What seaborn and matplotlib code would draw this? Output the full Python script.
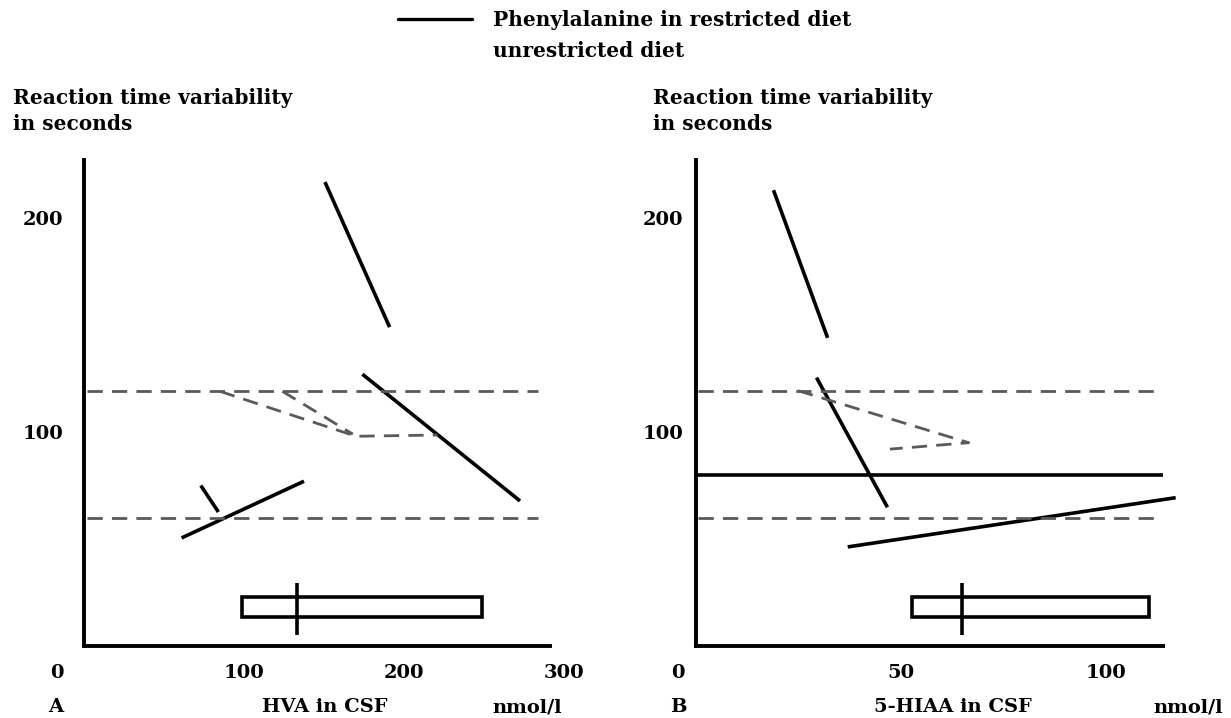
import numpy as np
import pandas as pd
import matplotlib
matplotlib.use("Agg")
import matplotlib.pyplot as plt
from matplotlib.patches import Rectangle
from matplotlib.lines import Line2D
import seaborn as sns

# ---------------- data ----------------
# Panel A (HVA in CSF, nmol/l) - restricted diet (solid) segments
a_solid_seg = [1, 1, 2, 2, 3, 3, 4, 4]
a_solid_x = [150.6, 191.0, 174.0, 272.5, 61.0, 137.5, 73.0, 84.0]
a_solid_y = [216.8, 149.0, 127.0, 67.8, 50.5, 77.0, 75.0, 62.6]
# Panel A - unrestricted diet (dashed) segments
a_dash_seg = [1, 1, 1, 2, 2]
a_dash_x = [85.0, 170.0, 221.0, 124.0, 168.0]
a_dash_y = [119.0, 98.0, 98.6, 119.0, 99.0]
# Panel A reference range (dashed horizontal)
a_ref_y = [119.0, 60.0]
a_ref_x = [2.0, 284.0]
# Panel A box (range of CSF values) and median
a_box_x = [99.0, 249.0]
a_box_y = [13.6, 22.9]
a_median_x = 133.0
a_median_y = [5.1, 29.4]

# Panel B (5-HIAA in CSF, nmol/l)
b_solid_seg = [1, 1, 2, 2, 3, 3, 4, 4]
b_solid_x = [18.9, 32.1, 29.4, 46.7, 0.0, 113.8, 37.0, 117.0]
b_solid_y = [213.0, 144.0, 125.4, 64.8, 79.9, 79.9, 46.3, 69.3]
b_dash_seg = [1, 1, 1]
b_dash_x = [24.9, 66.5, 47.3]
b_dash_y = [119.3, 95.0, 92.0]
b_ref_y = [119.0, 60.0]
b_ref_x = [0.5, 112.0]
b_box_x = [52.7, 110.5]
b_box_y = [13.6, 22.9]
b_median_x = 64.9
b_median_y = [5.1, 29.4]

# tick labels
y_ticks = [100, 200]
y_ticklabels = ["100", "200"]
a_xtick_pos = [-17, 100, 200, 300]
a_xticklabels = ["0", "100", "200", "300"]
b_xtick_pos = [-4.4, 50, 100]
b_xticklabels = ["0", "50", "100"]

legend_labels = ["Phenylalanine in restricted diet", "unrestricted diet"]
y_title = ["Reaction time variability", "in seconds"]

# ---------------- style ----------------
sns.set_style("white")
plt.rcParams["font.family"] = ["DejaVu Serif"]
plt.rcParams["font.weight"] = "bold"
plt.rcParams["text.color"] = "black"
plt.rcParams["xtick.color"] = "black"
plt.rcParams["ytick.color"] = "black"
plt.rcParams["xtick.labelcolor"] = "black"
plt.rcParams["ytick.labelcolor"] = "black"

W, H = 1231, 718
fig = plt.figure(figsize=(W / 100, H / 100), dpi=100)


def fx(px):
    return px / W


def fy(py):
    return 1 - py / H


YMAX = 227.0
PX_PER_Y = 2.14


def make_axes(left_px, xlim, px_per_x):
    width_px = (xlim[1] - xlim[0]) * px_per_x
    height_px = YMAX * PX_PER_Y
    ax = fig.add_axes([fx(left_px), fy(646), fx(width_px), height_px / H])
    ax.set_xlim(*xlim)
    ax.set_ylim(0, YMAX)
    ax.patch.set_alpha(0)
    return ax


axA = make_axes(84 - 20 * 1.6, (-20, 305), 1.6)
axB = make_axes(696 - 6 * 4.1, (-6, 118), 4.1)

SOLID_LW = 2.6
DASH_LW = 2.0
DASH_COLOR = "#5a5a5a"
DASHES = (5.5, 3.3)


def draw_panel(ax, sx, sy, sseg, dx, dy, dseg, ref_y, ref_x, box_x, box_y,
               med_x, med_y, xmax, xticks, xticklabels, ypad):
    df_s = pd.DataFrame({"x": sx, "y": sy, "seg": sseg})
    df_d = pd.DataFrame({"x": dx, "y": dy, "seg": dseg})
    sns.lineplot(data=df_s, x="x", y="y", units="seg", estimator=None,
                 sort=False, color="black", lw=SOLID_LW, ax=ax,
                 solid_capstyle="butt")
    sns.lineplot(data=df_d, x="x", y="y", units="seg", estimator=None,
                 sort=False, color=DASH_COLOR, lw=DASH_LW, ax=ax,
                 dashes=False, linestyle=(0, DASHES))
    ax.hlines(ref_y, ref_x[0], ref_x[1], colors=DASH_COLOR, lw=DASH_LW,
              linestyles=[(0, DASHES)])
    ax.add_patch(Rectangle((box_x[0], box_y[0]), box_x[1] - box_x[0],
                           box_y[1] - box_y[0], fill=False,
                           edgecolor="black", lw=SOLID_LW))
    ax.vlines(med_x, med_y[0], med_y[1], colors="black", lw=SOLID_LW)

    for s in ["top", "right"]:
        ax.spines[s].set_visible(False)
    ax.spines["left"].set_position(("data", 0))
    ax.spines["bottom"].set_position(("data", 0))
    ax.spines["left"].set_bounds(0, YMAX)
    ax.spines["bottom"].set_bounds(0, xmax)
    for s in ["left", "bottom"]:
        ax.spines[s].set_linewidth(2.8)
        ax.spines[s].set_color("black")
    ax.set_yticks(y_ticks)
    ax.set_yticklabels(y_ticklabels)
    ax.set_xticks(xticks)
    ax.set_xticklabels(xticklabels)
    ax.tick_params(axis="both", length=0, labelsize=14, labelcolor="black")
    ax.tick_params(axis="y", pad=ypad)
    ax.tick_params(axis="x", pad=13)
    for lab in ax.get_xticklabels() + ax.get_yticklabels():
        lab.set_fontweight("bold")
    ax.set_xlabel("")
    ax.set_ylabel("")


draw_panel(axA, a_solid_x, a_solid_y, a_solid_seg, a_dash_x, a_dash_y,
           a_dash_seg, a_ref_y, a_ref_x, a_box_x, a_box_y, a_median_x,
           a_median_y, 291, a_xtick_pos, a_xticklabels, 15)
draw_panel(axB, b_solid_x, b_solid_y, b_solid_seg, b_dash_x, b_dash_y,
           b_dash_seg, b_ref_y, b_ref_x, b_box_x, b_box_y, b_median_x,
           b_median_y, 114, b_xtick_pos, b_xticklabels, 9)

# legend
fig.add_artist(Line2D([fx(398), fx(472)], [fy(19), fy(19)], color="black",
                      lw=2.4, transform=fig.transFigure))
fig.text(fx(493), fy(20), legend_labels[0], ha="left", va="center",
         fontsize=14.5, fontweight="bold", color="black")
fig.text(fx(493), fy(51), legend_labels[1], ha="left", va="center",
         fontsize=14.5, fontweight="bold", color="black")

# y titles
for xl in [13, 653]:
    fig.text(fx(xl), fy(98), y_title[0], ha="left", va="center",
             fontsize=14.5, fontweight="bold", color="black")
    fig.text(fx(xl), fy(124), y_title[1], ha="left", va="center",
             fontsize=14.5, fontweight="bold", color="black")

# bottom labels
bottom = [("A", 56), ("HVA in CSF", 325), ("nmol/l", 527),
          ("B", 678), ("5-HIAA in CSF", 953), ("nmol/l", 1188)]
for txt, xc in bottom:
    fig.text(fx(xc), fy(707), txt, ha="center", va="center", fontsize=14,
             fontweight="bold", color="black")

fig.savefig("out.png", dpi=100)
